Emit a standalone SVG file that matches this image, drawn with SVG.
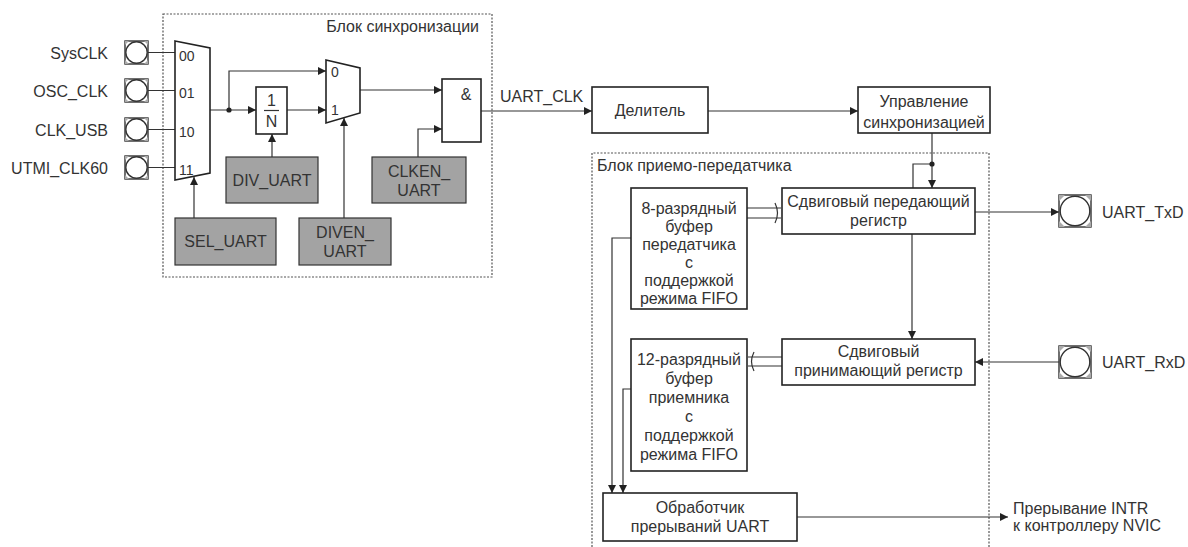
<svg xmlns="http://www.w3.org/2000/svg" width="1188" height="547" viewBox="0 0 1188 547">
<style>
text{font-family:"Liberation Sans",Arial,sans-serif;font-size:16px;fill:#333}
.s{font-size:14px}
.m{text-anchor:middle}
.e{text-anchor:end}
.box{fill:#fff;stroke:#222;stroke-width:1.6}
.g{fill:#a3a3a3;stroke:#333;stroke-width:1.2}
.ln{fill:none;stroke:#333;stroke-width:1.2}
.dot{fill:none;stroke:#555;stroke-width:1.2;stroke-dasharray:2 1.5}
.pad{fill:#fff;stroke:#333;stroke-width:1.4}
</style>
<defs>
<marker id="a" viewBox="0 0 10 10" refX="10" refY="5" markerWidth="8" markerHeight="8" markerUnits="userSpaceOnUse" orient="auto"><path d="M0,0 L10,5 L0,10 Z" fill="#222"/></marker>
<g id="padL"><rect x="0" y="0" width="23" height="23" class="pad"/><path d="M0,0h4l-4,4z M23,0h-4l4,4z M0,23h4l-4,-4z M23,23h-4l4,-4z" fill="#aaa"/><circle cx="11.5" cy="11.5" r="10.7" class="pad"/></g>
<g id="padR"><rect x="0" y="0" width="32" height="32" class="pad"/><path d="M0,0h6l-6,6z M32,0h-6l6,6z M0,32h6l-6,-6z M32,32h-6l6,-6z" fill="#aaa"/><circle cx="16" cy="16" r="14.8" class="pad"/></g>
</defs>

<g id="sync-block">
<rect x="163" y="14" width="329" height="263" class="dot"/>
<text x="479" y="32" class="e">Блок синхронизации</text>
</g>
<g id="trx-block">
<path d="M592,547 V153 H989 V547" class="dot"/>
<text x="597" y="171">Блок приемо-передатчика</text>
</g>

<g id="connectors">
<path d="M148,52.5H175 M148,90.5H175 M148,129.5H175 M148,167.5H175" class="ln"/>
<path d="M194,218V177" class="ln" marker-end="url(#a)"/>
<path d="M210,110H256" class="ln" marker-end="url(#a)"/>
<path d="M229,110V71H326" class="ln" marker-end="url(#a)"/>
<circle cx="229" cy="110" r="2.6" fill="#222"/>
<path d="M287,110H326" class="ln" marker-end="url(#a)"/>
<path d="M272,157V134" class="ln" marker-end="url(#a)"/>
<path d="M344,218V118" class="ln" marker-end="url(#a)"/>
<path d="M360,90H442" class="ln" marker-end="url(#a)"/>
<path d="M418,157V129H442" class="ln" marker-end="url(#a)"/>
<path d="M481,111H592" class="ln" marker-end="url(#a)"/>
<path d="M708,111H858" class="ln" marker-end="url(#a)"/>
<path d="M932,133V188" class="ln" marker-end="url(#a)"/>
<path d="M932,164H913V188" class="ln"/>
<circle cx="932" cy="164" r="2.6" fill="#222"/>
<path d="M747,208H781 M747,218H781 M775,203Q780,213 775,223" class="ln"/>
<path d="M975,212H1059" class="ln" marker-end="url(#a)"/>
<path d="M912,234V339" class="ln" marker-end="url(#a)"/>
<path d="M1059,362H975" class="ln" marker-end="url(#a)"/>
<path d="M782,357H748 M782,366H748 M754,352Q749,361.5 754,371" class="ln"/>
<path d="M631,238H612V493" class="ln" marker-end="url(#a)"/>
<path d="M631,389H623V493" class="ln" marker-end="url(#a)"/>
<path d="M797,517H1008" class="ln" marker-end="url(#a)"/>
</g>

<g id="pad-sysclk"><use href="#padL" x="125" y="41"/><text x="108" y="59" class="e">SysCLK</text></g>
<g id="pad-oscclk"><use href="#padL" x="125" y="79"/><text x="108" y="97" class="e">OSC_CLK</text></g>
<g id="pad-clkusb"><use href="#padL" x="125" y="118"/><text x="108" y="136" class="e">CLK_USB</text></g>
<g id="pad-utmi"><use href="#padL" x="125" y="156"/><text x="108" y="174" class="e">UTMI_CLK60</text></g>

<g id="mux1">
<polygon points="175,41 210,48 210,173 175,180" class="box"/>
<text x="179" y="61" class="s">00</text>
<text x="179" y="98" class="s">01</text>
<text x="179" y="137" class="s">10</text>
<text x="179" y="175" class="s">11</text>
</g>
<g id="divn">
<rect x="256" y="87" width="31" height="47" class="box"/>
<text x="271.5" y="106" class="m">1</text>
<path d="M264,110.5H279" stroke="#333" stroke-width="1.2"/>
<text x="271.5" y="127" class="m">N</text>
</g>
<g id="mux2">
<polygon points="326,60 360,68 360,113 326,123" class="box"/>
<text x="331" y="77" class="s">0</text>
<text x="331" y="115" class="s">1</text>
</g>
<g id="and"><rect x="442" y="79" width="39" height="63" class="box"/><text x="466" y="100" class="m">&amp;</text></g>
<g id="sel-uart"><rect x="175" y="218" width="101" height="47" class="g"/><text x="225.5" y="247" class="m">SEL_UART</text></g>
<g id="div-uart"><rect x="226" y="157" width="92" height="46" class="g"/><text x="272" y="186" class="m">DIV_UART</text></g>
<g id="diven-uart"><rect x="299" y="218" width="92" height="47" class="g"/><text x="345" y="238" class="m">DIVEN_</text><text x="345" y="257" class="m">UART</text></g>
<g id="clken-uart"><rect x="372" y="157" width="94" height="46" class="g"/><text x="419" y="177" class="m">CLKEN_</text><text x="419" y="196" class="m">UART</text></g>

<g id="uart-clk-label"><text x="500" y="102">UART_CLK</text></g>
<g id="divider"><rect x="592" y="87" width="116" height="46" class="box"/><text x="650" y="116" class="m">Делитель</text></g>
<g id="clk-ctrl"><rect x="858" y="87" width="132" height="46" class="box"/><text x="924" y="107" class="m">Управление</text><text x="924" y="128" class="m">синхронизацией</text></g>

<g id="tx-shift"><rect x="782" y="188" width="193" height="46" class="box"/><text x="878.5" y="207" class="m">Сдвиговый передающий</text><text x="878.5" y="226" class="m">регистр</text></g>
<g id="tx-buf"><rect x="631" y="188" width="116" height="121" class="box"/>
<text x="689" y="214" class="m">8-разрядный</text><text x="689" y="232" class="m">буфер</text><text x="689" y="250" class="m">передатчика</text><text x="689" y="268" class="m">с</text><text x="689" y="286" class="m">поддержкой</text><text x="689" y="304" class="m">режима FIFO</text></g>
<g id="rx-shift"><rect x="782" y="339" width="193" height="46" class="box"/><text x="878.5" y="357" class="m">Сдвиговый</text><text x="878.5" y="376" class="m">принимающий регистр</text></g>
<g id="rx-buf"><rect x="631" y="339" width="116" height="132" class="box"/>
<text x="689" y="365" class="m">12-разрядный</text><text x="689" y="384" class="m">буфер</text><text x="689" y="403" class="m">приемника</text><text x="689" y="422" class="m">с</text><text x="689" y="441" class="m">поддержкой</text><text x="689" y="460" class="m">режима FIFO</text></g>
<g id="irq"><rect x="603" y="493" width="194" height="48" class="box"/><text x="700" y="513" class="m">Обработчик</text><text x="700" y="532" class="m">прерываний UART</text></g>

<g id="pad-txd"><use href="#padR" x="1059" y="195"/><text x="1102" y="218">UART_TxD</text></g>
<g id="pad-rxd"><use href="#padR" x="1059" y="346"/><text x="1102" y="368">UART_RxD</text></g>
<g id="intr-label"><text x="1013" y="514">Прерывание INTR</text><text x="1013" y="531">к контроллеру NVIC</text></g>
</svg>
